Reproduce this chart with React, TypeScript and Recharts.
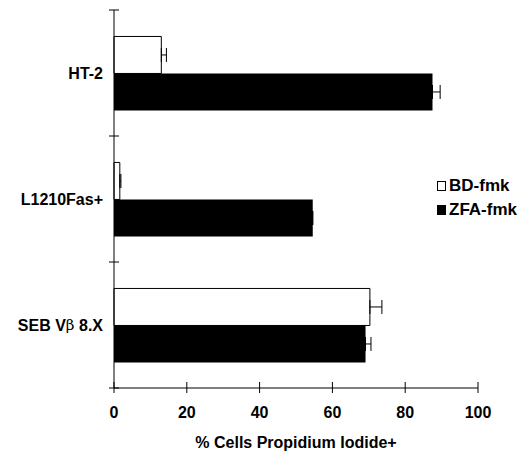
import React from "react";
import { Bar, BarChart, ErrorBar, XAxis, YAxis } from "recharts";

const CATEGORIES = ["HT-2", "L1210Fas+", "SEB Vβ 8.X"];
const BD_FMK = [13, 1.6, 70.3];
const BD_FMK_ERR = [1.4, 0.3, 3.3];
const ZFA_FMK = [87.5, 54.6, 69.1];
const ZFA_FMK_ERR = [2.1, 0, 1.5];
const X_TICKS = [0, 20, 40, 60, 80, 100];

const W = 519;
const H = 452;
const MARGIN = { top: 10, right: 41, bottom: 0, left: 0 };
const Y_AXIS_W = 114;
const X_AXIS_H = 64;
const PLOT_H = H - MARGIN.top - MARGIN.bottom - X_AXIS_H;
const BAND = PLOT_H / CATEGORIES.length;

const FONT = "'Liberation Sans', Arial, sans-serif";

const data = CATEGORIES.map((name, i) => ({
  name,
  bd: BD_FMK[i],
  bdErr: [0, BD_FMK_ERR[i]],
  zfa: ZFA_FMK[i],
  zfaErr: [0, ZFA_FMK_ERR[i]],
}));

function YTick(props: any) {
  const { x, y, payload, index } = props;
  const label = String(payload.value);
  const parts = label.split("β");
  return (
    <g>
      <line x1={x - 5} x2={x + 5} y1={y - BAND / 2} y2={y - BAND / 2} stroke="#000" />
      {index === CATEGORIES.length - 1 && (
        <line x1={x - 5} x2={x + 5} y1={y + BAND / 2} y2={y + BAND / 2} stroke="#000" />
      )}
      <text
        x={x - 11}
        y={y}
        textAnchor="end"
        dominantBaseline="central"
        fontFamily={FONT}
        fontWeight="bold"
        fontSize={16}
        fill="#000"
      >
        {parts.length > 1 ? (
          <>
            {parts[0]}
            <tspan fontFamily="'DejaVu Serif', serif" fontWeight="normal" fontSize={15}>
              β
            </tspan>
            {parts[1]}
          </>
        ) : (
          label
        )}
      </text>
    </g>
  );
}

function XTick(props: any) {
  const { x, y, payload } = props;
  return (
    <g>
      <line x1={x} x2={x} y1={y - 6} y2={y + 5} stroke="#000" />
      <text
        x={x}
        y={y + 24}
        textAnchor="middle"
        dominantBaseline="central"
        fontFamily={FONT}
        fontWeight="bold"
        fontSize={16}
        fill="#000"
      >
        {payload.value}
      </text>
    </g>
  );
}

function LegendBox() {
  const items = [
    { label: "BD-fmk", fill: "#fff" },
    { label: "ZFA-fmk", fill: "#000" },
  ];
  return (
    <div
      style={{
        position: "absolute",
        left: 437,
        top: 174,
        fontFamily: FONT,
        fontWeight: "bold",
        fontSize: 17,
        color: "#000",
        whiteSpace: "nowrap",
      }}
    >
      {items.map((it) => (
        <div key={it.label} style={{ display: "flex", alignItems: "center", height: 24 }}>
          <span
            style={{
              display: "inline-block",
              width: 7,
              height: 8,
              border: "1px solid #000",
              background: it.fill,
              marginRight: 3,
            }}
          />
          {it.label}
        </div>
      ))}
    </div>
  );
}

export default function App() {
  return (
    <div style={{ position: "absolute", left: 0, top: 0, width: W, height: H, background: "#fff" }}>
      <BarChart
        width={W}
        height={H}
        data={data}
        layout="vertical"
        margin={MARGIN}
        barCategoryGap="21%"
        barGap={0}
      >
        <XAxis
          type="number"
          domain={[0, 100]}
          ticks={X_TICKS}
          height={X_AXIS_H}
          axisLine={{ stroke: "#000" }}
          tickLine={false}
          tickSize={0}
          tickMargin={0}
          tick={<XTick />}
          label={{
            value: "% Cells Propidium Iodide+",
            position: "insideBottom",
            offset: 4,
            fill: "#000",
            fontFamily: FONT,
            fontWeight: "bold",
            fontSize: 16,
          }}
        />
        <YAxis
          type="category"
          dataKey="name"
          width={Y_AXIS_W}
          axisLine={{ stroke: "#000" }}
          tickLine={false}
          tickSize={0}
          tickMargin={0}
          tick={<YTick />}
        />
        <Bar dataKey="bd" name="BD-fmk" fill="#fff" stroke="#000" strokeWidth={1} isAnimationActive={false}>
          <ErrorBar dataKey="bdErr" direction="x" width={7} stroke="#000" strokeWidth={1} />
        </Bar>
        <Bar dataKey="zfa" name="ZFA-fmk" fill="#000" isAnimationActive={false}>
          <ErrorBar dataKey="zfaErr" direction="x" width={7} stroke="#000" strokeWidth={1} />
        </Bar>
      </BarChart>
      <LegendBox />
    </div>
  );
}
